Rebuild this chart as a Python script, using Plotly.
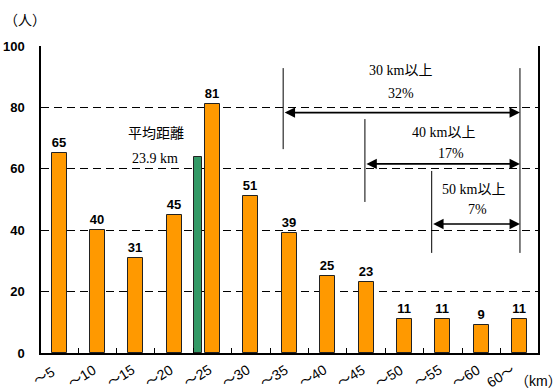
import plotly.graph_objects as go

# Commuting distance distribution (people per distance band)
categories = ["～5", "～10", "～15", "～20", "～25", "～30", "～35",
              "～40", "～45", "～50", "～55", "～60", "60～"]
counts = [65, 40, 31, 45, 81, 51, 39, 25, 23, 11, 11, 9, 11]

# Mean distance marker bar
mean_label = "平均距離"
mean_value_text = "23.9 km"
mean_bar_pos = 3.62
mean_bar_height = 64

# Cumulative share brackets
bracket_labels = ["30 km以上", "40 km以上", "50 km以上"]
bracket_shares = ["32%", "17%", "7%"]

y_ticks = [0, 20, 40, 60, 80, 100]

ORANGE = "#FF9900"
GREEN = "#339966"
SANS = "Arial, 'Liberation Sans', 'Noto Sans CJK JP', sans-serif"
SERIF = "'Liberation Serif', 'DejaVu Serif', 'Noto Sans CJK JP', serif"

W, H = 557, 389
ML, MR, MT, MB = 41, 19, 46, 36
pw, ph = W - ML - MR, H - MT - MB


def px_x(px):
    return (px - ML) / pw


def px_y(py):
    return (H - MB - py) / ph


xs = list(range(len(categories)))

fig = go.Figure()
fig.add_trace(go.Bar(
    x=xs, y=counts, width=0.39,
    marker=dict(color=ORANGE, line=dict(color="#222", width=1)),
    text=[str(v) for v in counts], textposition="outside",
    textfont=dict(family=SANS, size=13, color="black", weight="bold"),
    cliponaxis=False, showlegend=False,
))
fig.add_trace(go.Bar(
    x=[mean_bar_pos], y=[mean_bar_height], width=0.2,
    marker=dict(color=GREEN, line=dict(color="#222", width=1)),
    showlegend=False,
))

shapes = []
annotations = []

# bracket geometry in data units
left_x = [5.84, 7.97, 9.71]
right_x = 12.01
arrow_y = [78.3, 61.6, 42.0]
left_top = [92.8, 76.2, 59.3]
left_bottom = [66.4, 49.2, 32.6]
label_x = [8.9, 10.02, 10.8]
label_y = [91.9, 71.7, 53.4]
share_x = [8.9, 10.2, 10.9]
share_y = [84.4, 65.1, 46.6]

line_style = dict(color="black", width=1)
for i in range(3):
    shapes.append(dict(type="line", xref="x", yref="y", layer="above",
                       x0=left_x[i], x1=left_x[i], y0=left_bottom[i], y1=left_top[i],
                       line=line_style))
    annotations.append(dict(
        x=right_x, y=arrow_y[i], ax=left_x[i], ay=arrow_y[i],
        xref="x", yref="y", axref="x", ayref="y", text="",
        showarrow=True, arrowhead=2, startarrowhead=2, arrowside="end+start",
        arrowsize=1.3, startarrowsize=1.3, arrowwidth=1.6, arrowcolor="black",
    ))
    annotations.append(dict(x=label_x[i], y=label_y[i], xref="x", yref="y",
                            text=bracket_labels[i], showarrow=False,
                            font=dict(family=SERIF, size=14, color="black")))
    annotations.append(dict(x=share_x[i], y=share_y[i], xref="x", yref="y",
                            text=bracket_shares[i], showarrow=False,
                            font=dict(family=SERIF, size=14, color="black")))

shapes.append(dict(type="line", xref="x", yref="y", layer="above",
                   x0=right_x, x1=right_x, y0=32.6, y1=92.8, line=line_style))

# mean distance caption
annotations.append(dict(x=2.53, y=71.5, xref="x", yref="y", text=mean_label,
                        showarrow=False, font=dict(family=SERIF, size=14, color="black")))
annotations.append(dict(x=2.5, y=63.3, xref="x", yref="y", text=mean_value_text,
                        showarrow=False, font=dict(family=SERIF, size=14, color="black")))

# rotated category labels below the axis
for i, c in enumerate(categories):
    shift = -19 if c.endswith("～") else -15
    annotations.append(dict(x=i, y=px_y(376), xref="x", yref="paper", text=c,
                            showarrow=False, textangle=-32, xshift=shift,
                            xanchor="center", yanchor="middle",
                            font=dict(family=SANS, size=14, color="black")))

# unit captions
annotations.append(dict(x=px_x(538), y=px_y(381), xref="paper", yref="paper",
                        text="（km）", showarrow=False, xanchor="center", yanchor="middle",
                        font=dict(family=SANS, size=14, color="black")))
annotations.append(dict(x=px_x(25), y=px_y(20), xref="paper", yref="paper",
                        text="（人）", showarrow=False, xanchor="center", yanchor="middle",
                        font=dict(family=SANS, size=14, color="black")))

fig.update_layout(
    width=W, height=H,
    margin=dict(l=ML, r=MR, t=MT, b=MB, autoexpand=False),
    paper_bgcolor="white", plot_bgcolor="white",
    barmode="overlay", bargap=0,
    shapes=shapes, annotations=annotations,
    xaxis=dict(range=[-0.47, 12.48], tickvals=[i + 0.5 for i in range(12)],
               showticklabels=False, ticks="inside", ticklen=5, tickcolor="black",
               showline=True, linecolor="black", linewidth=2, showgrid=False,
               zeroline=False, fixedrange=True, automargin=False),
    yaxis=dict(range=[0, 100], tickvals=y_ticks, ticks="inside", ticklen=5,
               tickcolor="black", showline=True, linecolor="black", linewidth=1.5,
               mirror=True, showgrid=True, gridcolor="black", gridwidth=1,
               griddash="8px,5px", zeroline=False, ticklabelstandoff=12,
               tickfont=dict(family=SANS, size=13, color="black", weight="bold"),
               fixedrange=True, automargin=False),
)

fig.write_html("out.html", config={"displayModeBar": False})
